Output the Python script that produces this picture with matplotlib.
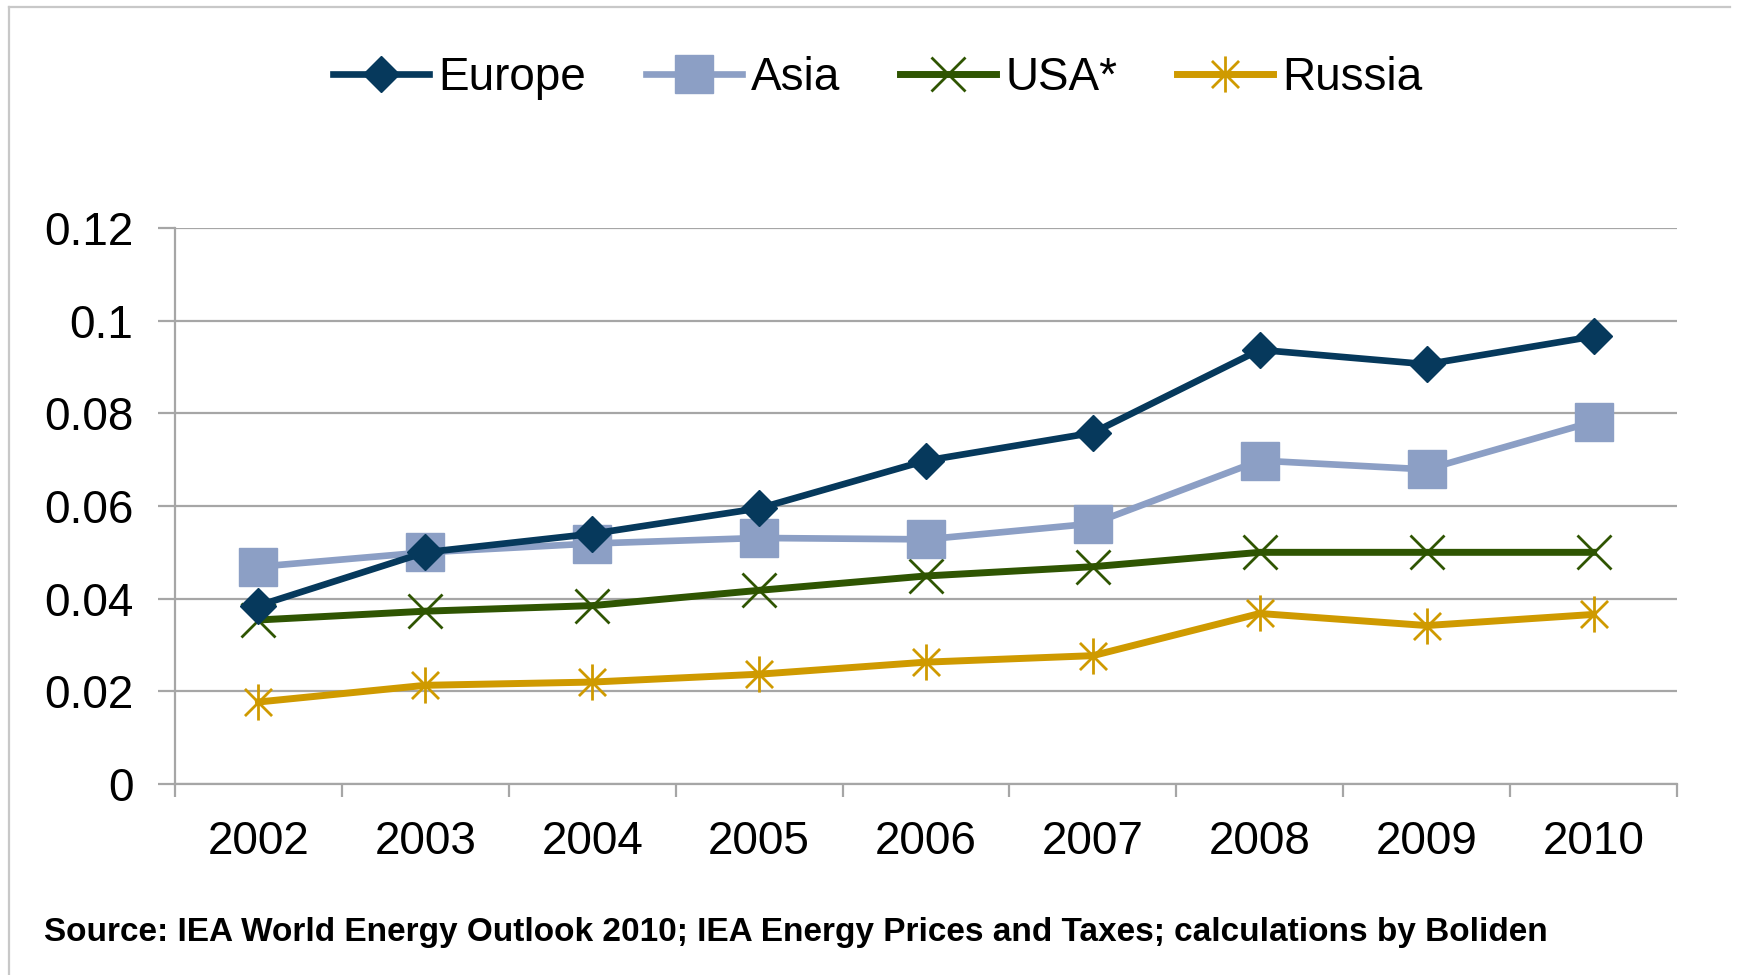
import matplotlib
matplotlib.use('Agg')
import matplotlib.pyplot as plt
from matplotlib.path import Path
from matplotlib.lines import Line2D

years = ['2002', '2003', '2004', '2005', '2006', '2007', '2008', '2009', '2010']
europe = [0.0385, 0.0500, 0.0540, 0.0595, 0.0698, 0.0758, 0.0937, 0.0906, 0.0966]
asia = [0.0469, 0.0500, 0.0519, 0.0531, 0.0528, 0.0562, 0.0698, 0.0679, 0.0782]
usa = [0.0354, 0.0373, 0.0385, 0.0418, 0.0449, 0.0469, 0.0500, 0.0500, 0.0500]
russia = [0.0177, 0.0213, 0.0220, 0.0237, 0.0263, 0.0277, 0.0368, 0.0342, 0.0366]
yticks = [0, 0.02, 0.04, 0.06, 0.08, 0.10, 0.12]
ytick_labels = ['0', '0.02', '0.04', '0.06', '0.08', '0.1', '0.12']
source = 'Source: IEA World Energy Outlook 2010; IEA Energy Prices and Taxes; calculations by Boliden'

plt.rcParams['font.family'] = ['Liberation Sans', 'DejaVu Sans']

W, H = 1737, 975
fig = plt.figure(figsize=(W / 100, H / 100), dpi=100)
ax = fig.add_axes([175 / W, 1 - 784 / H, (1677 - 175) / W, (784 - 228) / H])

grey = '#A6A6A6'
x = list(range(len(years)))

# asterisk marker (vertical bar + X)
ast = Path([(0, -1), (0, 1), (-0.75, -0.75), (0.75, 0.75), (-0.75, 0.75), (0.75, -0.75)],
           [Path.MOVETO, Path.LINETO, Path.MOVETO, Path.LINETO, Path.MOVETO, Path.LINETO])

l1, = ax.plot(x, europe, color='#06395C', lw=4.8, marker='D', ms=18, mec='#06395C', label='Europe', zorder=6)
l2, = ax.plot(x, asia, color='#8C9FC5', lw=4.8, marker='s', ms=27, mec='#8C9FC5', label='Asia', zorder=5)
l3, = ax.plot(x, usa, color='#2F5502', lw=5.0, marker='x', ms=25, mew=2, mec='#2F5502', label='USA*', zorder=4)
l4, = ax.plot(x, russia, color='#CF9A00', lw=5.0, marker=ast, ms=26, mew=2, mec='#CF9A00',
              fillstyle='none', label='Russia', zorder=3)

ax.set_xlim(-0.5, len(years) - 0.5)
ax.set_ylim(0, 0.12)
ax.set_yticks(yticks)
ax.set_yticklabels(ytick_labels)
ax.yaxis.grid(True, color=grey, lw=1.6)
ax.set_axisbelow(True)
for s in ['top', 'right']:
    ax.spines[s].set_visible(False)
for s in ['left', 'bottom']:
    ax.spines[s].set_color(grey)
    ax.spines[s].set_linewidth(1.6)

ax.set_xticks(x)
ax.set_xticklabels(years)
ax.set_xticks([i - 0.5 for i in range(len(years) + 1)], minor=True)
ax.tick_params(axis='x', which='major', length=0, pad=26, labelsize=33)
ax.tick_params(axis='x', which='minor', length=9.5, width=1.6, color=grey, direction='out')
ax.tick_params(axis='y', which='major', length=12, width=1.6, color=grey, pad=18, labelsize=33)

fig.legend(handles=[l1, l2, l3, l4], loc='center', bbox_to_anchor=(878 / W, 1 - 78 / H),
           ncol=4, frameon=False, fontsize=33, handlelength=2.1, handletextpad=0.2,
           columnspacing=1.3, borderpad=0)

fig.text(44 / W, 1 - 933 / H, source, fontsize=24, fontweight='bold', va='center', ha='left')

fig.add_artist(Line2D([9 / W, 9 / W], [0, 1 - 7 / H], color='#C8C8C8', lw=1.6, transform=fig.transFigure))
fig.add_artist(Line2D([9 / W, 1730 / W], [1 - 7 / H, 1 - 7 / H], color='#C8C8C8', lw=1.6, transform=fig.transFigure))

fig.savefig('out.png', dpi=100)
